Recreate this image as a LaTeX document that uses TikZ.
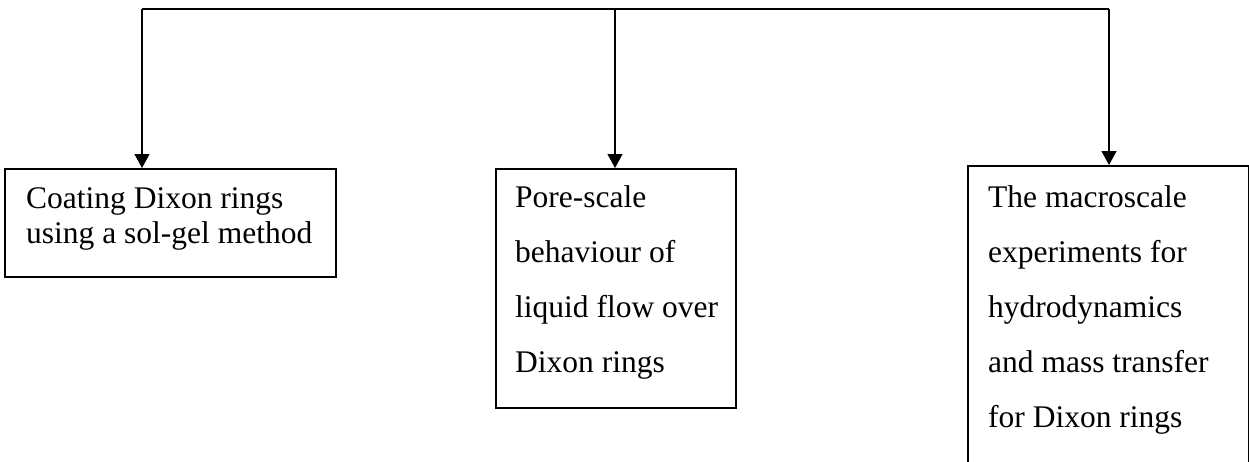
\documentclass[tikz,border=0pt]{standalone}
\usepackage{fontspec}
\setmainfont{Liberation Serif}
\usetikzlibrary{arrows.meta}
\begin{document}
\begin{tikzpicture}[x=1pt,y=-1pt,
  conn/.style={line width=1.3pt,-{Triangle[width=15pt,length=14pt]}},
  topline/.style={line width=1.3pt},
  boxnode/.style={draw,line width=2pt,rectangle,inner sep=0pt,anchor=north west},
  tight/.style={font=\fontsize{31.5}{35}\selectfont,align=left,anchor=base west,inner sep=0pt},
  loose/.style={font=\fontsize{31.5}{55}\selectfont,align=left,anchor=base west,inner sep=0pt}]
\useasboundingbox (0,0) rectangle (1249,461);
\clip (0,0) rectangle (1249,461);
% boxes
\node[boxnode,minimum width=331pt,minimum height=108pt] (b1) at (4,168) {};
\node[boxnode,minimum width=240pt,minimum height=239pt] (b2) at (495,168) {};
\node[boxnode,minimum width=281pt,minimum height=340pt] (b3) at (967,165) {};
% texts (anchored at last baseline)
\node[tight] (t1) at (26,243) {Coating Dixon rings\\using a sol-gel method};
\node[loose] (t2) at (515,372) {Pore-scale\\behaviour of\\liquid flow over\\Dixon rings};
\node[loose] (t3) at (988,427) {The macroscale\\experiments for\\hydrodynamics\\and mass transfer\\for Dixon rings};
% connectors
\coordinate (tl) at (142,9);
\coordinate (tm) at (615,9);
\coordinate (tr) at (1109,9);
\draw[topline] (tl) -- (tr);
\draw[conn] (tl) -- (tl |- b1.north);
\draw[conn] (tm) -- (tm |- b2.north);
\draw[conn] (tr) -- (tr |- b3.north);
\end{tikzpicture}
\end{document}
